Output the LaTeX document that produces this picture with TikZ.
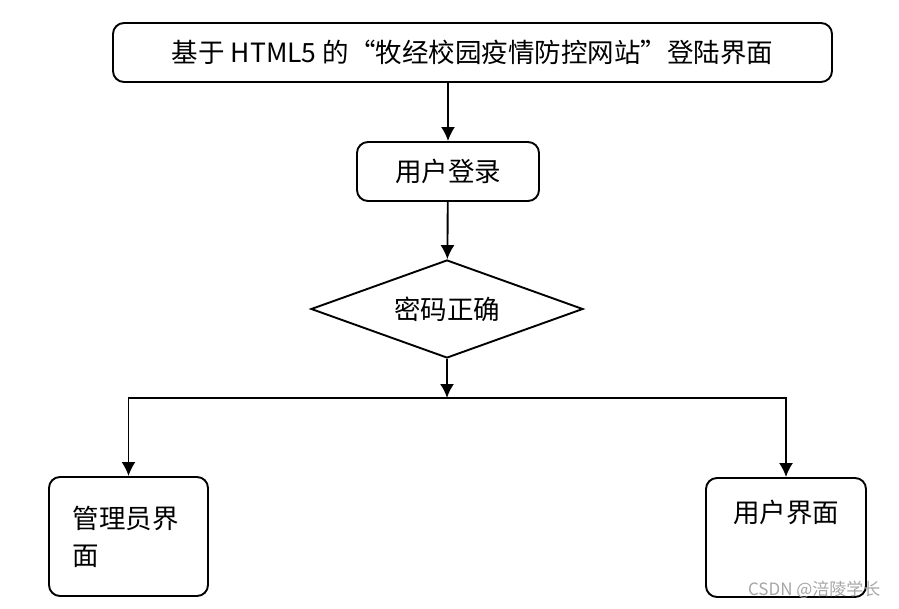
\documentclass[tikz,border=0pt]{standalone}
\usepackage{fontspec}
\setmainfont{Noto Sans CJK SC}
\usetikzlibrary{arrows}
\usetikzlibrary{arrows.meta}
\usetikzlibrary{shapes.geometric}
\usetikzlibrary{calc}

\begin{document}
\begin{tikzpicture}
  [
    x=1pt,y=-1pt,
    box/.style={
      draw,
      line width=1.9pt,
      rounded corners=11pt,
      inner sep=0pt,
      font=\fontsize{26.5}{37}\selectfont
    },
    decision/.style={draw,diamond,shape aspect=2.78,line width=1.9pt,inner sep=0pt,font=\fontsize{26.5}{30}\selectfont},
    flow/.style={>={Latex[length=14pt,width=14pt]},->,line width=1.9pt},
  ]
    \useasboundingbox (0,0) rectangle (899,609);
    % title and login
    \node [box,minimum width=719pt,minimum height=59pt] (title) at (472.5,52.5) {基于 HTML5 的“牧经校园疫情防控网站”登陆界面};
    \node [box,minimum width=182pt,minimum height=59pt] (login) at (448,171.5) {用户登录};
    % check
    \node [decision,minimum width=272pt,minimum height=98pt] (check) at (447,309) {密码正确};
    \coordinate (split) at (447,398);
    % the two views
    \node [box,minimum width=159pt,minimum height=119pt,text width=112pt,align=left] (admin) at (128.5,536.5) {管理员界\\面};
    \node [box,minimum width=160pt,minimum height=119pt,text depth=52pt] (user) at (786,537.5) {用户界面};
    % arrows
    \draw [flow] (title.south -| login) -- (login);
    \draw [flow] (login) -- (check);
    \draw [flow] (check) -- (split);
    \draw [flow] (split) -| (admin);
    \draw [flow] (split) -| (user);
    % watermark
    \node [text=black!35,font=\fontsize{17}{17}\selectfont,anchor=east] (mark) at (884,590) {CSDN @涪陵学长};
  \end{tikzpicture}
\end{document}
